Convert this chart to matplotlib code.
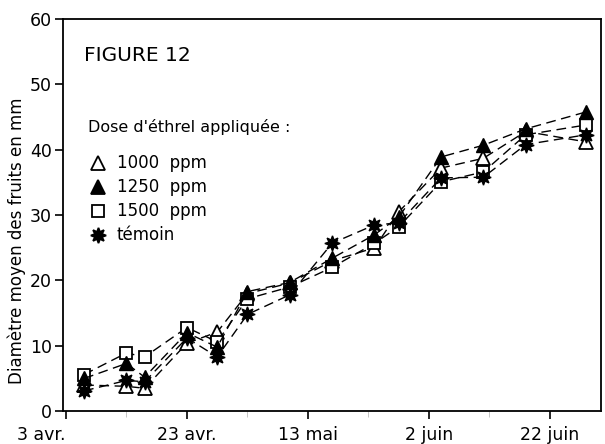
import matplotlib
matplotlib.use("Agg")
import matplotlib.pyplot as plt

plt.rcParams['font.family'] = ['DejaVu Sans']

# jours depuis le 3 avril
jours = [3, 10, 13, 20, 25, 30, 37, 44, 51, 55, 62, 69, 76, 86]

# diametre moyen (mm)
dose_1000 = [4.0, 3.8, 3.5, 10.4, 12.1, 18.0, 19.6, 23.0, 25.0, 30.5, 37.2, 38.7, 42.8, 41.2]
dose_1250 = [5.0, 7.3, 5.2, 12.0, 9.8, 18.3, 19.7, 23.4, 27.0, 29.7, 38.9, 40.7, 43.2, 45.8]
dose_1500 = [5.6, 8.9, 8.3, 12.8, 10.6, 17.2, 19.0, 22.0, 25.7, 28.2, 35.1, 36.6, 42.3, 43.8]
temoin = [3.1, 4.7, 4.5, 11.2, 8.3, 14.8, 17.8, 25.7, 28.5, 28.8, 35.7, 35.8, 40.8, 42.3]

tick_jours = [0, 20, 40, 60, 80]
tick_labels = ["3 avr.", "23 avr.", "13 mai", "2 juin", "22 juin"]
minor_jours = [10, 30, 50, 70]

fig = plt.figure(figsize=(6.05, 4.44), dpi=100)
ax = fig.add_axes([0.104, 0.074, 0.89, 0.883])

dash = (0, (7, 4))
ax.plot(jours, dose_1000, color='black', lw=1, ls=dash, marker='^', ms=10,
        mfc='white', mec='black', mew=1.3, zorder=3)
ax.plot(jours, dose_1250, color='black', lw=1, ls=dash, marker='^', ms=10,
        mfc='black', mec='black', zorder=4)
ax.plot(jours, dose_1500, color='black', lw=1, ls=dash, marker='s', ms=9,
        mfc='white', mec='black', mew=1.3, zorder=3)
ax.plot(jours, temoin, color='black', lw=1, ls=dash, marker=(8, 1, 0), ms=11,
        mfc='black', mec='black', zorder=4)

ax.set_xlim(-0.5, 88.5)
ax.set_ylim(0, 60)
ax.set_yticks(range(0, 61, 10))
ax.set_xticks(tick_jours)
ax.set_xticklabels(tick_labels)
ax.set_xticks(minor_jours, minor=True)
ax.tick_params(axis='both', which='major', direction='out', length=6, width=1.2,
               labelsize=12.5, colors='black', pad=2)
ax.tick_params(axis='x', which='major', pad=5)
ax.tick_params(axis='x', which='minor', direction='out', length=4, width=0.6,
               color='#bbbbbb')
ax.get_xticklabels()[0].set_horizontalalignment('right')
for s in ax.spines.values():
    s.set_linewidth(1.3)

ax.set_ylabel("Diamètre moyen des fruits en mm", fontsize=12)
ax.yaxis.set_label_coords(-0.068, 0.435)

ax.text(0.04, 0.892, "FIGURE 12", transform=ax.transAxes, fontsize=14.5)
ax.text(0.047, 0.713, "Dose d'éthrel appliquée :", transform=ax.transAxes, fontsize=11.5)

# legende manuelle
leg_y = [0.632, 0.571, 0.510, 0.449]
leg_txt = ["1000  ppm", "1250  ppm", "1500  ppm", "témoin"]
leg_mk = [('^', 'white', 10), ('^', 'black', 10), ('s', 'white', 9), ((8, 1, 0), 'black', 11)]
for yy, txt, (m, fc, sz) in zip(leg_y, leg_txt, leg_mk):
    ax.plot([0.065], [yy], transform=ax.transAxes, marker=m, ms=sz, mfc=fc,
            mec='black', mew=1.3, ls='none', clip_on=False)
    ax.text(0.1, yy, txt, transform=ax.transAxes, fontsize=12, va='center')

fig.savefig("out.png", dpi=100)
